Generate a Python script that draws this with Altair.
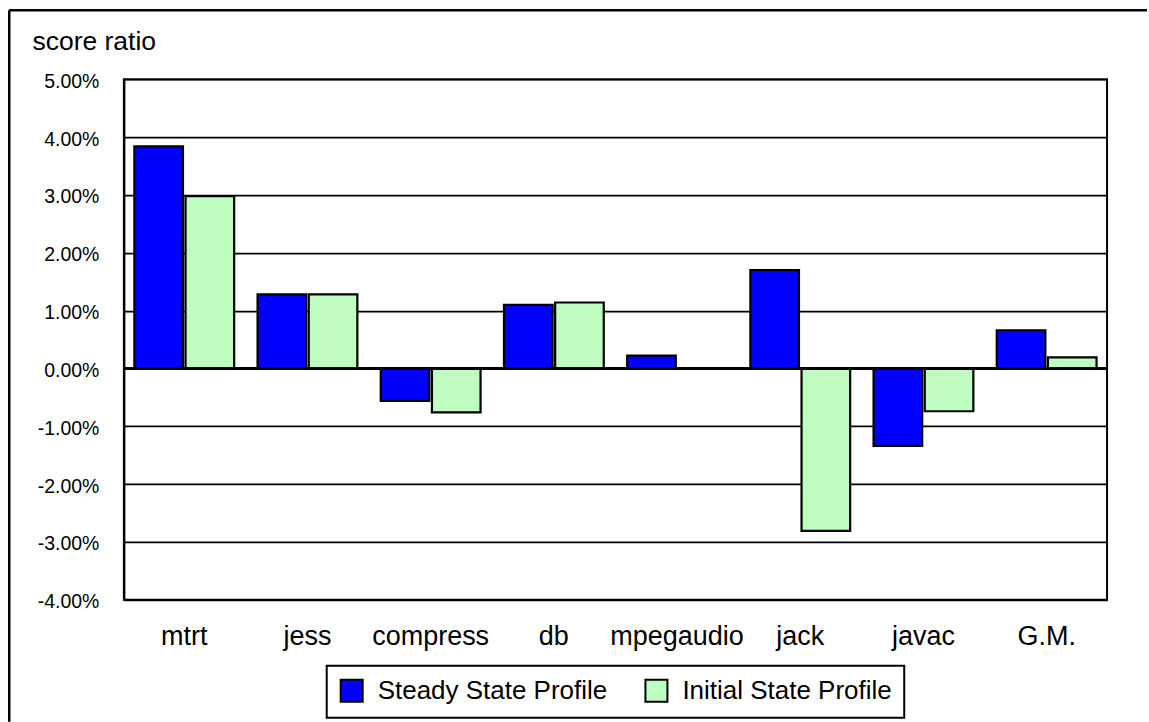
import altair as alt
import pandas as pd

# Benchmarks and score ratios (in percent) for the two profiles
benchmarks = ["mtrt", "jess", "compress", "db", "mpegaudio", "jack", "javac", "G.M."]
profiles = ["Steady State Profile", "Initial State Profile"]
steady_pct = [3.84, 1.28, -0.56, 1.10, 0.22, 1.70, -1.34, 0.66]
initial_pct = [2.98, 1.28, -0.76, 1.14, 0.00, -2.81, -0.74, 0.19]
y_ticks = [-4, -3, -2, -1, 0, 1, 2, 3, 4, 5]
profile_colors = ["#0000ff", "#bffcbf"]

rows = []
for name, s, i in zip(benchmarks, steady_pct, initial_pct):
    rows.append({"benchmark": name, "profile": profiles[0], "value": s})
    rows.append({"benchmark": name, "profile": profiles[1], "value": i})
df = pd.DataFrame(rows)

FONT = "Liberation Sans"

pct_label = "(datum.value < 0 ? '-' : '') + format(abs(datum.value), '.2f') + '%'"

y_scale = alt.Scale(domain=[-4, 5], nice=False, zero=False)
y_axis = alt.Axis(
    values=y_ticks, labelExpr=pct_label,
    labelFont=FONT, labelFontSize=19.5, labelColor="black",
    labelPadding=25, labelOffset=2, ticks=False,
    domain=True, domainColor="black", domainWidth=2,
    grid=True, gridColor="black", gridWidth=1.7, gridOpacity=1,
    title="score ratio", titleAngle=0, titleAlign="left",
    titleBaseline="alphabetic", titleX=-92, titleY=-30,
    titleFont=FONT, titleFontSize=26.5, titleFontWeight="normal",
    titleColor="black",
)

bars = alt.Chart(df).mark_bar(stroke="black", strokeWidth=2.2).encode(
    x=alt.X(
        "benchmark:N",
        sort=benchmarks,
        scale=alt.Scale(paddingInner=0.19, paddingOuter=0.085),
        axis=alt.Axis(
            title=None, labelAngle=0, domain=False, ticks=False,
            labelFont=FONT, labelFontSize=27, labelColor="black",
            labelBaseline="alphabetic", labelPadding=45,
        ),
    ),
    xOffset=alt.XOffset("profile:N", sort=profiles, scale=alt.Scale(paddingInner=0.05)),
    y=alt.Y("value:Q", scale=y_scale, axis=y_axis),
    color=alt.Color(
        "profile:N",
        sort=profiles,
        scale=alt.Scale(domain=profiles, range=profile_colors),
        legend=alt.Legend(
            title=None, orient="none", direction="horizontal",
            legendX=203, legendY=587, padding=12,
            strokeColor="black",
            symbolType="square", symbolSize=484,
            symbolStrokeColor="black", symbolStrokeWidth=2,
            symbolOpacity=1,
            labelFont=FONT, labelFontSize=26, labelColor="black",
            labelOffset=13, labelLimit=500, columnPadding=34,
        ),
    ),
)

# Heavier line at zero
zero_line = alt.Chart(pd.DataFrame({"value": [0]})).mark_rule(
    color="black", strokeWidth=3
).encode(y=alt.Y("value:Q", scale=y_scale, axis=y_axis))

# Outer frame around the whole figure (top and left edges)
frame_df = pd.DataFrame({"k": [0]})
frame_top = alt.Chart(frame_df).mark_rule(color="black", strokeWidth=2.5).encode(
    x=alt.value(-114.75), x2=alt.value(1024), y=alt.value(-69)
)
frame_left = alt.Chart(frame_df).mark_rule(color="black", strokeWidth=2.5).encode(
    x=alt.value(-114.75), y=alt.value(-69), y2=alt.value(643)
)

chart = alt.layer(bars, zero_line, frame_top, frame_left).properties(
    width=984,
    height=521,
    padding={"left": 8, "top": 8, "right": 0, "bottom": 0},
    background="white",
).configure_view(
    stroke="black", strokeWidth=2
).configure_legend(
    strokeWidth=2
)

chart.save("out.html", embed_options={"renderer": "svg", "actions": False})
